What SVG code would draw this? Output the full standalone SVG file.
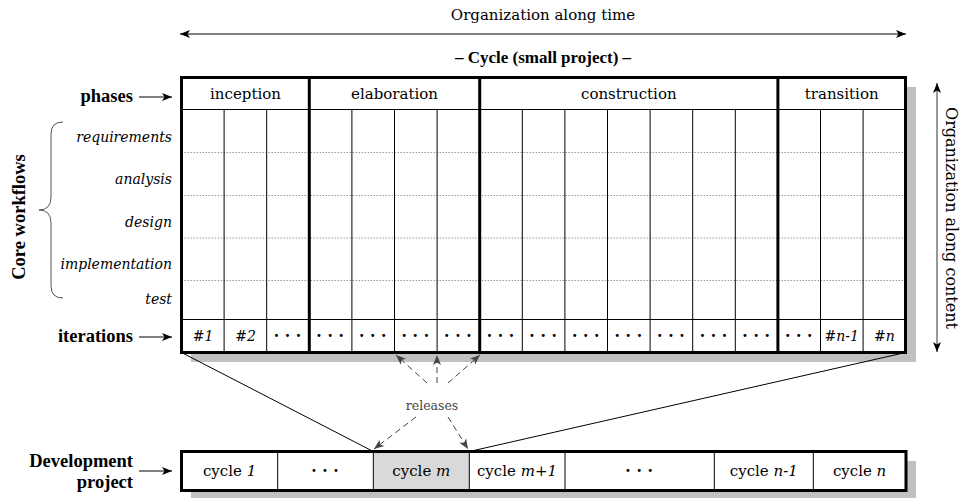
<svg xmlns="http://www.w3.org/2000/svg" width="961" height="498" viewBox="0 0 961 498">
  <defs>
    <marker id="arr" viewBox="0 0 10 10" refX="10" refY="5" markerWidth="10" markerHeight="10" markerUnits="userSpaceOnUse" orient="auto">
      <path d="M0,1 L10,5 L0,9 L2.5,5 Z" fill="#000"/>
    </marker>
    <marker id="arrg" viewBox="0 0 10 10" refX="10" refY="5" markerWidth="10" markerHeight="10" markerUnits="userSpaceOnUse" orient="auto">
      <path d="M0,1 L10,5 L0,9 L2.5,5 Z" fill="#444"/>
    </marker>
    <marker id="arrs" viewBox="0 0 10 10" refX="10" refY="5" markerWidth="10" markerHeight="10" markerUnits="userSpaceOnUse" orient="auto-start-reverse">
      <path d="M0,1 L10,5 L0,9 L2.5,5 Z" fill="#000"/>
    </marker>
  </defs>
  <style>
    text { font-family: "DejaVu Serif", "Liberation Serif", serif; fill: #000; }
    .lbl { font-size: 15px; }
    .bold { font-family: "Liberation Serif", "Times New Roman", serif; font-size: 18.5px; font-weight: bold; }
    .wf { font-size: 14px; font-style: italic; text-anchor: end; }
    .c { text-anchor: middle; }
    .it { font-style: italic; }
    .num { font-size: 14px; font-style: italic; text-anchor: middle; }
    .dots { font-size: 10px; text-anchor: middle; letter-spacing: 1px; font-family: "DejaVu Sans", sans-serif; }
    .thin { stroke: #000; stroke-width: 1; fill: none; }
    .thick { stroke: #000; stroke-width: 3; fill: none; }
    .dot { stroke: #999; stroke-width: 1; stroke-dasharray: 1.5 1.5; }
    .shadow { fill: #c0c0c0; }
    .dash { stroke: #444; stroke-width: 1; stroke-dasharray: 6 4; fill: none; }
  </style>

  <!-- axis annotations -->
  <g id="time-axis">
    <text class="lbl c" x="543" y="20">Organization along time</text>
    <line x1="180" y1="34" x2="906" y2="34" stroke="#000" stroke-width="1" marker-start="url(#arrs)" marker-end="url(#arrs)"/>
  </g>
  <g id="content-axis">
    <line x1="937" y1="83" x2="937" y2="352" stroke="#333" stroke-width="1" marker-start="url(#arrs)" marker-end="url(#arrs)"/>
    <text class="c" font-size="16" transform="translate(946,218) rotate(90)">Organization along content</text>
  </g>

  <!-- cycle table -->
  <g id="cycle">
    <text class="bold c" x="543" y="63" style="font-size:17px">– Cycle (small project) –</text>
    <rect class="shadow" x="191" y="87" width="725" height="275"/>
    <rect x="181.5" y="77.5" width="724" height="275" fill="#fff"/>
    <!-- workflow row separators -->
    <g class="dot">
      <line x1="181.5" y1="152.5" x2="905.5" y2="152.5"/>
      <line x1="181.5" y1="195.5" x2="905.5" y2="195.5"/>
      <line x1="181.5" y1="238" x2="905.5" y2="238"/>
      <line x1="181.5" y1="280.5" x2="905.5" y2="280.5"/>
    </g>
    <!-- iteration columns -->
    <g class="thin">
      <line x1="181.5" y1="109.5" x2="905.5" y2="109.5"/>
      <line x1="181.5" y1="319.5" x2="905.5" y2="319.5"/>
      <path d="M224.1,109.5 V352.5 M266.7,109.5 V352.5 M351.9,109.5 V352.5 M394.5,109.5 V352.5 M437.1,109.5 V352.5 M522.3,109.5 V352.5 M564.9,109.5 V352.5 M607.5,109.5 V352.5 M650.1,109.5 V352.5 M692.7,109.5 V352.5 M735.3,109.5 V352.5 M820.5,109.5 V352.5 M863.1,109.5 V352.5"/>
    </g>
    <g class="thick">
      <rect x="181.5" y="77.5" width="724" height="275"/>
      <line x1="309.3" y1="77.5" x2="309.3" y2="352.5"/>
      <line x1="479.7" y1="77.5" x2="479.7" y2="352.5"/>
      <line x1="777.9" y1="77.5" x2="777.9" y2="352.5"/>
    </g>
    <!-- phase names -->
    <text class="lbl c" x="245.5" y="99">inception</text>
    <text class="lbl c" x="394.5" y="99">elaboration</text>
    <text class="lbl c" x="628.8" y="99">construction</text>
    <text class="lbl c" x="841.7" y="99">transition</text>
    <!-- iteration labels -->
    <text class="num" x="203" y="341">#1</text>
    <text class="num" x="245.5" y="341">#2</text>
    <g>
      <text class="dots" x="288" y="339">• • •</text>
      <text class="dots" x="330.6" y="339">• • •</text>
      <text class="dots" x="373.2" y="339">• • •</text>
      <text class="dots" x="415.8" y="339">• • •</text>
      <text class="dots" x="458.4" y="339">• • •</text>
      <text class="dots" x="501" y="339">• • •</text>
      <text class="dots" x="543.6" y="339">• • •</text>
      <text class="dots" x="586.2" y="339">• • •</text>
      <text class="dots" x="628.8" y="339">• • •</text>
      <text class="dots" x="671.4" y="339">• • •</text>
      <text class="dots" x="714" y="339">• • •</text>
      <text class="dots" x="756.6" y="339">• • •</text>
      <text class="dots" x="799.2" y="339">• • •</text>
    </g>
    <text class="num" x="841.8" y="341">#n-1</text>
    <text class="num" x="884.4" y="341">#n</text>
  </g>

  <!-- row labels -->
  <g id="row-labels">
    <text class="bold" x="133" y="102" text-anchor="end">phases</text>
    <line x1="139" y1="97" x2="172" y2="97" stroke="#000" stroke-width="1" marker-end="url(#arr)"/>
    <text class="bold" x="133" y="342" text-anchor="end">iterations</text>
    <line x1="139" y1="337" x2="172" y2="337" stroke="#000" stroke-width="1" marker-end="url(#arr)"/>
  </g>
  <g id="core-workflows">
    <text class="bold c" transform="translate(25,217) rotate(-90)">Core workflows</text>
    <path d="M63,122 Q51,122 51,134 V197 Q51,210 39,210 Q51,210 51,223 V286 Q51,298 63,298" fill="none" stroke="#555" stroke-width="1"/>
    <text class="wf" x="172" y="142">requirements</text>
    <text class="wf" x="172" y="184">analysis</text>
    <text class="wf" x="172" y="227">design</text>
    <text class="wf" x="172" y="269">implementation</text>
    <text class="wf" x="172" y="304">test</text>
  </g>

  <!-- development project bar -->
  <g id="development-project">
    <text class="bold" x="133" y="467" text-anchor="end">Development</text>
    <text class="bold" x="133" y="488" text-anchor="end">project</text>
    <line x1="139" y1="471" x2="172" y2="471" stroke="#000" stroke-width="1" marker-end="url(#arr)"/>
    <rect class="shadow" x="191" y="461" width="725" height="37"/>
    <rect x="181.5" y="451.5" width="724.5" height="39" fill="#fff"/>
    <rect x="373.3" y="451.5" width="96" height="39" fill="#d9d9d9"/>
    <path class="thin" d="M277.7,451.5 V490.5 M373.3,451.5 V490.5 M469.3,451.5 V490.5 M565,451.5 V490.5 M714.3,451.5 V490.5 M813.3,451.5 V490.5"/>
    <rect class="thick" x="181.5" y="451.5" width="724.5" height="39"/>
    <text class="lbl c" x="229.6" y="476">cycle <tspan class="it">1</tspan></text>
    <text class="dots" x="325.5" y="474">• • •</text>
    <text class="lbl c" x="421.3" y="476">cycle <tspan class="it">m</tspan></text>
    <text class="lbl c" x="517" y="476">cycle <tspan class="it">m+1</tspan></text>
    <text class="dots" x="639.6" y="474">• • •</text>
    <text class="lbl c" x="763.8" y="476">cycle <tspan class="it">n-1</tspan></text>
    <text class="lbl c" x="859.6" y="476">cycle <tspan class="it">n</tspan></text>
  </g>

  <!-- connectors -->
  <g id="connectors">
    <line x1="181.5" y1="352.5" x2="373.3" y2="451.5" stroke="#000" stroke-width="1"/>
    <line x1="905.5" y1="352.5" x2="469.3" y2="451.5" stroke="#000" stroke-width="1"/>
    <text class="c" x="432" y="410" font-size="12.5" style="fill:#444">releases</text>
    <line class="dash" x1="427" y1="383" x2="396" y2="355" marker-end="url(#arrg)"/>
    <line class="dash" x1="437" y1="383" x2="437" y2="355" marker-end="url(#arrg)"/>
    <line class="dash" x1="448" y1="383" x2="480" y2="355" marker-end="url(#arrg)"/>
    <line class="dash" x1="416" y1="417" x2="374" y2="449" marker-end="url(#arrg)"/>
    <line class="dash" x1="448" y1="417" x2="468" y2="449" marker-end="url(#arrg)"/>
  </g>
</svg>
